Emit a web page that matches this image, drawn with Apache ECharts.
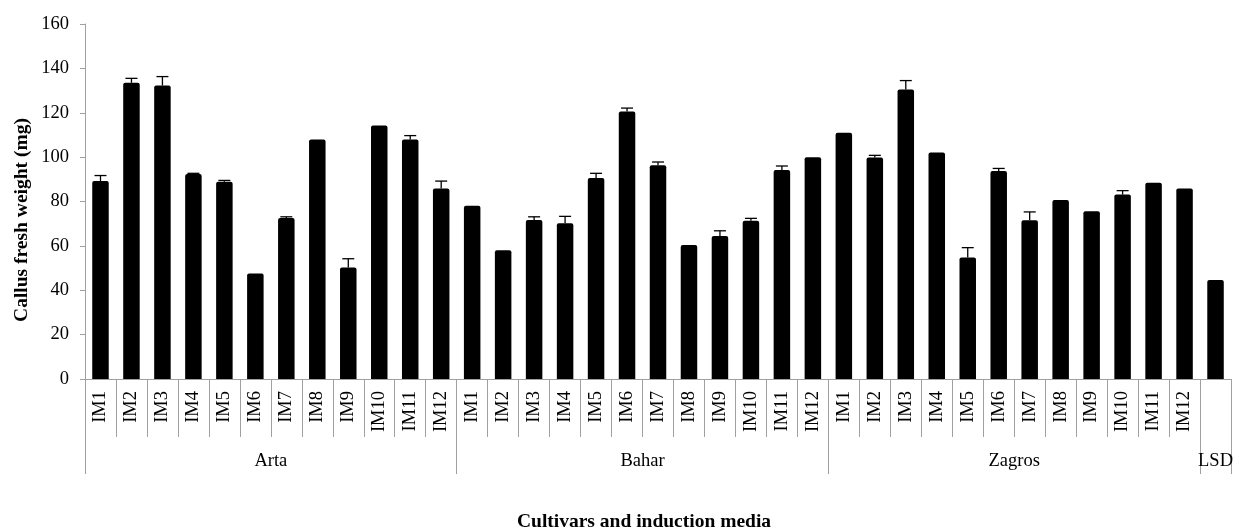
<!DOCTYPE html>
<html>
<head>
<meta charset="utf-8">
<script src="https://cdn.jsdelivr.net/npm/echarts@6/dist/echarts.min.js"></script>
<style>
html,body{margin:0;padding:0;background:#fff;}
#chart{width:1236px;height:530px;}
</style>
</head>
<body>
<div id="chart"></div>
<script>
// ---- data ----
const media = ['IM1','IM2','IM3','IM4','IM5','IM6','IM7','IM8','IM9','IM10','IM11','IM12'];
const groups = ['Arta','Bahar','Zagros','LSD'];
const artaValues   = [89.2, 133.5, 132.3, 92.4, 88.9, 47.6, 72.6, 108.0, 50.2, 114.2, 108.0, 85.9];
const artaErrors   = [2.5, 2.0, 4.0, 0.3, 0.6, 0, 0.5, 0, 4.0, 0, 1.7, 3.3];
const baharValues  = [78.1, 58.0, 71.7, 70.2, 90.6, 120.6, 96.3, 60.4, 64.4, 71.3, 94.2, 99.9];
const baharErrors  = [0, 0, 1.4, 3.1, 2.1, 1.5, 1.5, 0, 2.4, 1.1, 1.8, 0];
const zagrosValues = [111.0, 99.8, 130.5, 102.1, 54.8, 93.7, 71.5, 80.7, 75.6, 83.1, 88.5, 85.9];
const zagrosErrors = [0, 1.0, 4.0, 0, 4.4, 1.2, 3.8, 0, 0, 1.8, 0, 0];
const lsdValue = [44.6];
const lsdError = [0];
const yTicks = [0, 20, 40, 60, 80, 100, 120, 140, 160];
const yTitle = 'Callus fresh weight (mg)';
const xTitle = 'Cultivars and induction media';

// ---- build ----
const categories = [].concat(media, media, media, ['']);
const values = [].concat(artaValues, baharValues, zagrosValues, lsdValue);
const errors = [].concat(artaErrors, baharErrors, zagrosErrors, lsdError);
const groupSizes = [media.length, media.length, media.length, 1];
const boundaries = [];
const groupCenters = {};
let acc = 0;
groupSizes.forEach((s, i) => {
  boundaries.push(acc);
  groupCenters[(acc + s / 2).toFixed(1)] = groups[i];
  acc += s;
});
const total = acc;
const errData = values.map((v, i) => [i, v, errors[i]]);

const FONT = 'Liberation Serif';
const GRAY = '#a0a0a0';

const chart = echarts.init(document.getElementById('chart'), null, {renderer: 'canvas'});
chart.setOption({
  animation: false,
  backgroundColor: '#ffffff',
  grid: {left: 85, right: 3, top: 24, bottom: 151, containLabel: false},
  xAxis: [
    {
      type: 'category', data: categories, position: 'bottom',
      axisLine: {show: true, lineStyle: {color: GRAY, width: 1}},
      axisTick: {show: true, interval: 0, length: 58, lineStyle: {color: GRAY}},
      axisLabel: {interval: 0, rotate: 90, margin: 12, fontFamily: FONT, fontSize: 18.5, color: '#000'},
      splitLine: {show: false}
    },
    {
      type: 'category', data: categories, position: 'bottom',
      axisLine: {show: false},
      axisTick: {show: true, interval: (idx) => boundaries.indexOf(idx) >= 0, length: 95, lineStyle: {color: GRAY}},
      axisLabel: {show: false},
      splitLine: {show: false}
    },
    {
      type: 'value', min: 0, max: total, interval: 0.5, position: 'bottom',
      axisLine: {show: false}, axisTick: {show: false}, splitLine: {show: false},
      axisLabel: {
        margin: 73, fontFamily: FONT, fontSize: 18.5, color: '#000',
        showMinLabel: true, showMaxLabel: true,
        formatter: (v) => groupCenters[Number(v).toFixed(1)] || ''
      }
    }
  ],
  yAxis: {
    type: 'value', min: yTicks[0], max: yTicks[yTicks.length - 1], interval: yTicks[1] - yTicks[0],
    axisLine: {show: true, lineStyle: {color: GRAY, width: 1}},
    axisTick: {show: true, inside: false, length: 5, lineStyle: {color: GRAY}},
    axisLabel: {margin: 16, fontFamily: FONT, fontSize: 18.5, color: '#000'},
    splitLine: {show: false}
  },
  graphic: [
    {type: 'text', x: 22, y: 220, rotation: Math.PI / 2,
     style: {text: yTitle, font: 'bold 19.5px "Liberation Serif"', fill: '#000', align: 'center', verticalAlign: 'middle'}},
    {type: 'text', x: 644, y: 522,
     style: {text: xTitle, font: 'bold 19.5px "Liberation Serif"', fill: '#000', align: 'center', verticalAlign: 'middle'}}
  ],
  series: [
    {
      type: 'bar', xAxisIndex: 0, yAxisIndex: 0, data: values,
      barWidth: 16.5,
      itemStyle: {color: '#000', borderRadius: [2, 2, 0, 0]}
    },
    {
      type: 'custom', xAxisIndex: 0, yAxisIndex: 0, data: errData, z: 5,
      renderItem: function (params, api) {
        const x = api.value(0), v = api.value(1), e = api.value(2);
        if (!e) return null;
        const p0 = api.coord([x, v]);
        const p1 = api.coord([x, v + e]);
        const hw = 6;
        const st = {stroke: '#000', lineWidth: 1.3};
        return {
          type: 'group',
          children: [
            {type: 'line', shape: {x1: p0[0], y1: p0[1], x2: p1[0], y2: p1[1]}, style: st},
            {type: 'line', shape: {x1: p1[0] - hw, y1: p1[1], x2: p1[0] + hw, y2: p1[1]}, style: st}
          ]
        };
      }
    }
  ]
});
</script>
</body>
</html>
